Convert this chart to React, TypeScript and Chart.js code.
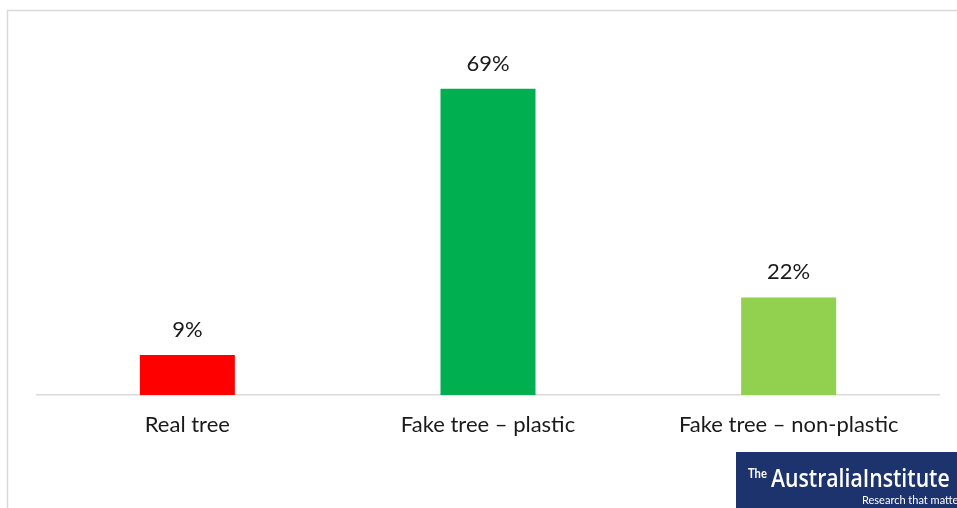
import React, { useEffect, useRef } from "react";
import { Chart, registerables } from "chart.js";

Chart.register(...registerables);

const categories = ["Real tree", "Fake tree – plastic", "Fake tree – non-plastic"];
const values = [9, 69, 22];
const barColors = ["#FF0000", "#00B050", "#92D050"];
const valueLabels = ["9%", "69%", "22%"];

const FONT = "Lato, 'Open Sans', sans-serif";

const decorPlugin = {
  id: "decor",
  beforeDraw(chart: any) {
    const ctx = chart.ctx;
    ctx.save();
    ctx.fillStyle = "#ffffff";
    ctx.fillRect(0, 0, chart.width, chart.height);
    ctx.strokeStyle = "#d9d9d9";
    ctx.lineWidth = 1.5;
    ctx.beginPath();
    ctx.moveTo(7.5, 520);
    ctx.lineTo(7.5, 10.5);
    ctx.lineTo(970, 10.5);
    ctx.stroke();
    ctx.restore();
  },
  afterDatasetsDraw(chart: any) {
    const ctx = chart.ctx;
    const meta = chart.getDatasetMeta(0);
    ctx.save();
    ctx.font = `22px ${FONT}`;
    ctx.fillStyle = "#1a1a1a";
    ctx.textAlign = "center";
    ctx.textBaseline = "middle";
    meta.data.forEach((el: any, i: number) => {
      ctx.fillText(valueLabels[i], el.x, el.y - 25);
    });
    ctx.restore();
  },
  afterDraw(chart: any) {
    const ctx = chart.ctx;
    ctx.save();
    ctx.fillStyle = "#1d336e";
    ctx.fillRect(736, 452, 230, 60);
    ctx.fillStyle = "#ffffff";
    ctx.textBaseline = "alphabetic";
    ctx.textAlign = "left";
    ctx.save();
    ctx.translate(748, 478);
    ctx.scale(0.8, 1);
    ctx.font = `bold 14px ${FONT}`;
    ctx.fillText("The", 0, 0);
    ctx.restore();
    ctx.save();
    ctx.translate(771, 487);
    ctx.scale(0.815, 1);
    ctx.font = `600 26px 'Open Sans', ${FONT}`;
    ctx.fillText("AustraliaInstitute", 0, 0);
    ctx.restore();
    ctx.font = `11px ${FONT}`;
    ctx.fillText("Research that matters", 862, 504);
    ctx.restore();
  },
};

export default function App() {
  const ref = useRef<HTMLCanvasElement | null>(null);
  useEffect(() => {
    if (!ref.current) return;
    const chart = new Chart(ref.current, {
      type: "bar",
      data: {
        labels: categories,
        datasets: [
          {
            data: values,
            backgroundColor: barColors,
            borderWidth: 0,
            categoryPercentage: 1,
            barPercentage: 0.316,
          },
        ],
      },
      options: {
        animation: false,
        responsive: false,
        devicePixelRatio: 1,
        layout: { padding: { left: 37, right: 18, top: 40, bottom: 0 } },
        plugins: { legend: { display: false }, tooltip: { enabled: false } },
        scales: {
          x: {
            grid: { display: false, drawTicks: false },
            border: { display: true, color: "#d9d9d9", width: 1.5 },
            ticks: {
              color: "#1a1a1a",
              font: { family: FONT, size: 22 },
              padding: 17,
              maxRotation: 0,
              autoSkip: false,
            },
            afterFit: (axis: any) => {
              axis.height = 113;
            },
          },
          y: {
            display: false,
            min: 0,
            max: 80,
          },
        },
      },
      plugins: [decorPlugin],
    });
    return () => chart.destroy();
  }, []);
  return (
    <div style={{ position: "absolute", left: 0, top: 0, width: 957, height: 508 }}>
      <canvas ref={ref} width={957} height={508} />
    </div>
  );
}
